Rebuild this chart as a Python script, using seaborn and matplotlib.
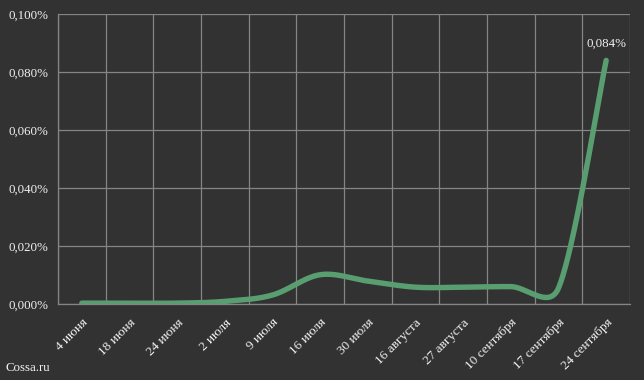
import numpy as np
import matplotlib
matplotlib.use('Agg')
import matplotlib.pyplot as plt
from matplotlib.ticker import FuncFormatter
import seaborn as sns

# data (values in percent)
dates = ['4 июня', '18 июня', '24 июня', '2 июля', '9 июля', '16 июля', '30 июля',
         '16 августа', '27 августа', '10 сентября', '17 сентября', '24 сентября']
share = [0.0003, 0.0003, 0.0003, 0.0009, 0.0031, 0.0101, 0.0079,
         0.0058, 0.0058, 0.0060, 0.0055, 0.084]
y_ticks = [0.0, 0.02, 0.04, 0.06, 0.08, 0.10]

BG = '#323232'
GRID = '#858585'
TXT = '#f2f2f2'
LINE = '#589e70'


def excel_smooth(xs, ys, sx, sy, n=60):
    # bezier smoothing like excel's "smoothed line", done in pixel-like space
    P = np.column_stack([np.asarray(xs, float) * sx, np.asarray(ys, float) * sy])
    out = []
    for i in range(len(P) - 1):
        p0 = P[max(i - 1, 0)]
        p1 = P[i]
        p2 = P[i + 1]
        p3 = P[min(i + 2, len(P) - 1)]
        d12 = np.linalg.norm(p2 - p1)
        d02 = np.linalg.norm(p2 - p0)
        d13 = np.linalg.norm(p3 - p1)
        f1 = min(1 / 6, d12 / 2 / d02) if d02 else 0
        f2 = min(1 / 6, d12 / 2 / d13) if d13 else 0
        c1 = p1 + (p2 - p0) * f1
        c2 = p2 - (p3 - p1) * f2
        t = np.linspace(0, 1, n)[:, None]
        seg = (1 - t) ** 3 * p1 + 3 * (1 - t) ** 2 * t * c1 + 3 * (1 - t) * t ** 2 * c2 + t ** 3 * p2
        out.append(seg if i == 0 else seg[1:])
    out = np.vstack(out)
    return out[:, 0] / sx, out[:, 1] / sy


sns.set_style('dark', rc={'axes.facecolor': BG, 'figure.facecolor': BG,
                          'axes.edgecolor': GRID, 'grid.color': GRID,
                          'text.color': TXT, 'xtick.color': TXT, 'ytick.color': TXT})
plt.rcParams['font.family'] = ['Liberation Serif', 'DejaVu Serif']

fig = plt.figure(figsize=(6.44, 3.8), dpi=100)
ax = fig.add_axes([58 / 644, 1 - 304 / 380, 572 / 644, 290 / 380])

xs = np.arange(len(dates))
cx, cy = excel_smooth(xs, share, 47.67, 2900)
sns.lineplot(x=cx, y=cy, sort=False, estimator=None, color=LINE, lw=3.9, ax=ax)
ax.lines[-1].set_solid_capstyle('round')

ax.annotate(f'{share[-1]:.3f}%'.replace('.', ','), (xs[-1], share[-1]),
            xytext=(0, 12), textcoords='offset points', ha='center', va='center',
            fontsize=9.3, color=TXT)

ax.set_xlim(-0.5, len(dates) - 0.5)
ax.set_ylim(0, 0.1)
ax.set_yticks(y_ticks)
ax.yaxis.set_major_formatter(FuncFormatter(lambda v, p: f'{v:.3f}%'.replace('.', ',')))
ax.set_xticks(xs)
ax.set_xticklabels(dates, rotation=45, ha='right', rotation_mode='anchor')
ax.set_xticks(np.arange(-0.5, len(dates), 1), minor=True)

ax.tick_params(axis='x', which='major', length=0, pad=9, labelsize=9.5)
ax.tick_params(axis='x', which='minor', length=4, width=0.8, color=GRID, direction='out')
ax.tick_params(axis='y', length=4, width=0.8, color=GRID, pad=3, labelsize=9.3)
ax.grid(False)
ax.grid(True, axis='y', which='major', color=GRID, lw=0.9)
ax.grid(True, axis='x', which='minor', color=GRID, lw=0.9)
for side in ['top', 'right']:
    ax.spines[side].set_visible(False)
for side in ['left', 'bottom']:
    ax.spines[side].set_color(GRID)
    ax.spines[side].set_linewidth(0.9)
ax.set_xlabel('')
ax.set_ylabel('')

fig.text(5 / 644, 1 - 368 / 380, 'Cossa.ru', fontsize=9.3, color=TXT, va='center', ha='left')

fig.savefig('out.png', dpi=100, facecolor=BG)
